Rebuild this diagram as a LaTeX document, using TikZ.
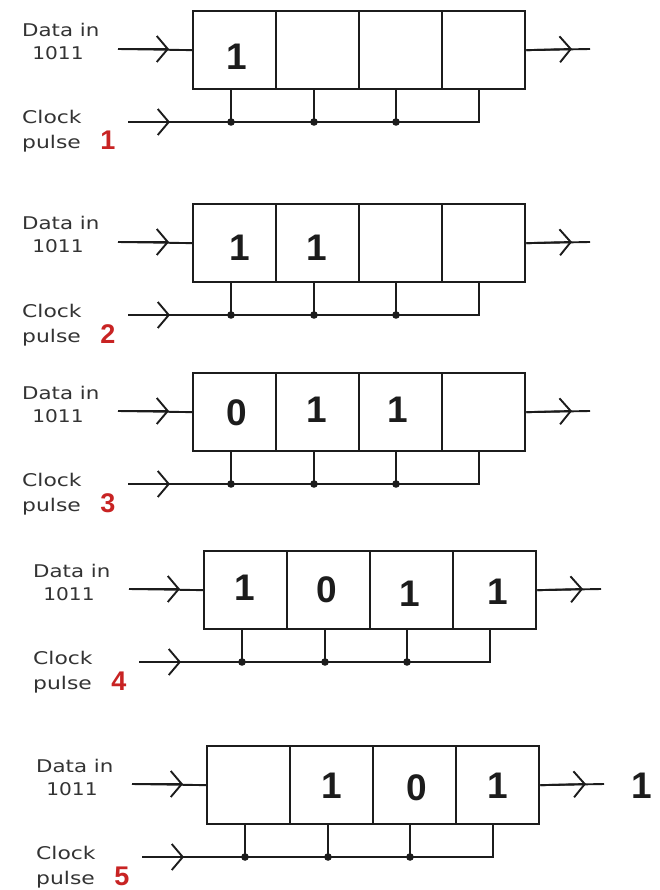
\documentclass[tikz,border=0pt]{standalone}
\usepackage{fontspec}
\usetikzlibrary{arrows.meta}
\newfontfamily\lblfont{DejaVu Sans}
\newfontfamily\digfont{Liberation Sans}
\definecolor{pulsered}{RGB}{200,35,35}
\definecolor{ink}{RGB}{28,28,28}
\begin{document}
\begin{tikzpicture}[x=1pt,y=-1pt,
  cell/.style={draw=ink, line width=2.3pt, minimum width=83pt, minimum height=78pt, inner sep=0pt, anchor=north west},
  wire/.style={draw=ink, line width=1.9pt},
  chev/.style={-{Straight Barb[length=11pt,width=26pt]}},
  lbl/.style={font=\lblfont\fontsize{17.5}{17.5}\selectfont, text=ink!90, inner sep=0pt},
  bit/.style={font=\digfont\bfseries\fontsize{37}{37}\selectfont, text=ink, inner sep=0pt},
  pnum/.style={font=\digfont\bfseries\fontsize{27}{27}\selectfont, text=pulsered, inner sep=0pt, anchor=base}]
\useasboundingbox (0,0) rectangle (659,890);
\fill[white] (0,0) rectangle (659,890);
\foreach \n/\dx/\dy in {1/0/0,2/0/193,3/0/362,4/11/540,5/14/735}{
  \begin{scope}[shift={(\dx,\dy)}]
    \node[cell] (p\n c1) at (192,10) {};
    \node[cell] (p\n c2) at (275,10) {};
    \node[cell] (p\n c3) at (358,10) {};
    \node[cell] (p\n c4) at (441,10) {};
    \coordinate (p\n din) at (118,49);
    \coordinate (p\n dtip) at (169,49);
    \coordinate (p\n otip) at (572,49);
    \coordinate (p\n oend) at (590,49);
    \coordinate (p\n cin) at (128,122);
    \coordinate (p\n ctip) at (170,122);
    \coordinate (p\n cend) at (479,122);
    \coordinate (p\n t1) at (231,122);
    \coordinate (p\n t2) at (314,122);
    \coordinate (p\n t3) at (396,122);
    \draw[wire] (p\n din) -- (p\n c1.west);
    \draw[wire, chev] (p\n din) -- (p\n dtip);
    \draw[wire] (p\n c4.east) -- (p\n oend);
    \draw[wire, chev] (p\n c4.east) -- (p\n otip);
    \draw[wire] (p\n cin) -- (p\n cend) -- (p\n cend |- p\n c4.south);
    \draw[wire, chev] (p\n cin) -- (p\n ctip);
    \foreach \k in {1,2,3}{
      \draw[wire] (p\n t\k) -- (p\n t\k |- p\n c\k.south);
      \fill[ink] (p\n t\k) circle (3.8pt);
    }
    \node[lbl, anchor=base west] (p\n data) at (22,37) {\scalebox{1.22}[1]{Data in}};
    \node[lbl, anchor=base] (p\n word) at (58,60) {\scalebox{1.15}[1]{1011}};
    \node[lbl, anchor=base west] (p\n clock) at (22,124) {\scalebox{1.25}[1]{Clock}};
    \node[lbl, anchor=base west] (p\n pulse) at (22,149) {\scalebox{1.25}[1]{pulse}};
    \node[pnum] (p\n num) at (108,150) {\n};
  \end{scope}
}
% stored bits
\node[bit] (b11) at (237,57) {1};
\node[bit] (b21) at (240,248) {1};
\node[bit] (b22) at (317,248) {1};
\node[bit] (b31) at (237,413) {0};
\node[bit] (b32) at (317,410) {1};
\node[bit] (b33) at (398,410) {1};
\node[bit] (b41) at (245,588) {1};
\node[bit] (b42) at (327,590) {0};
\node[bit] (b43) at (410,594) {1};
\node[bit] (b44) at (498,592) {1};
\node[bit] (b52) at (332,786) {1};
\node[bit] (b53) at (417,788) {0};
\node[bit] (b54) at (498,786) {1};
\node[bit] (out) at (642,786) {1};
\end{tikzpicture}
\end{document}
